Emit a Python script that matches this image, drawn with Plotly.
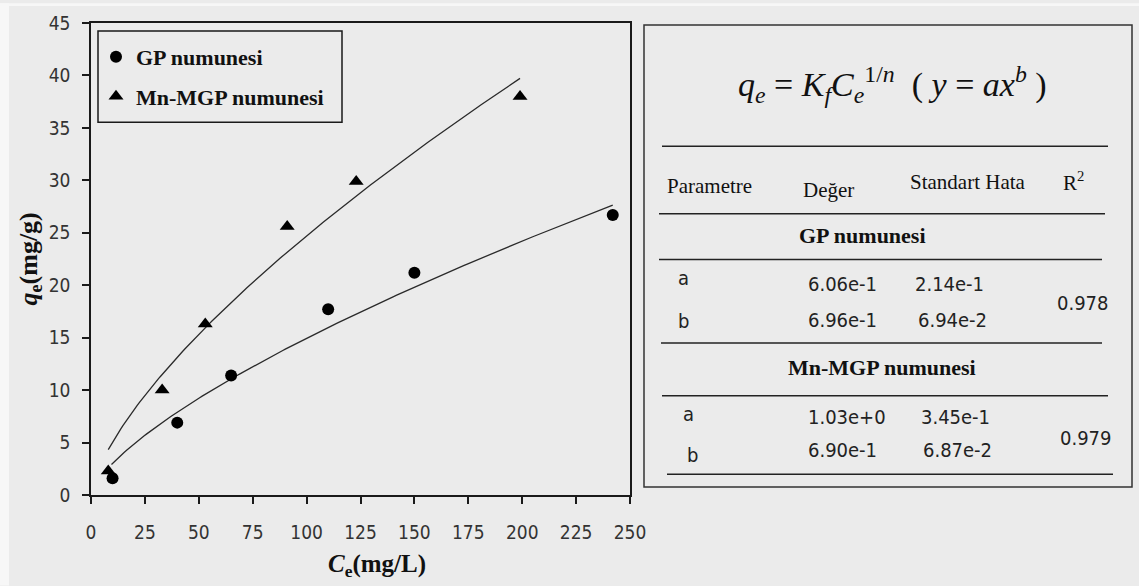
import numpy as np
import plotly.graph_objects as go

# ---------------- data ----------------
gp_ce = [10, 40, 65, 110, 150, 242]
gp_qe = [1.6, 6.9, 11.4, 17.7, 21.2, 26.7]
mn_ce = [8, 33, 53, 91, 123, 199]
mn_qe = [2.3, 10.0, 16.3, 25.6, 29.9, 38.0]

# Freundlich fit parameters (from the table)
gp_a, gp_b = 0.606, 0.696
mn_a, mn_b = 1.03, 0.690
gp_fit_range = [9.5, 242]
mn_fit_range = [8, 199]

x_ticks = [0, 25, 50, 75, 100, 125, 150, 175, 200, 225, 250]
y_ticks = [0, 5, 10, 15, 20, 25, 30, 35, 40, 45]

table_header = ["Parametre", "Değer", "Standart Hata", "R<sup>2</sup>"]
gp_rows = [["a", "6.06e-1", "2.14e-1"], ["b", "6.96e-1", "6.94e-2"]]
gp_r2 = "0.978"
mn_rows = [["a", "1.03e+0", "3.45e-1"], ["b", "6.90e-1", "6.87e-2"]]
mn_r2 = "0.979"

# ---------------- geometry helpers ----------------
W, H = 1139, 586
L, R, T, B = 91, 630, 20, 495


def xp(px):
    return (px - L) / (R - L)


def yp(py):
    return (B - py) / (B - T)


BG = "#ebebeb"
INK = "#1a1a1a"
SERIF = "Liberation Serif, Times New Roman, serif"
SANS = "DejaVu Sans Condensed, DejaVu Sans, sans-serif"

fig = go.Figure()

gx = np.linspace(gp_fit_range[0], gp_fit_range[1], 200)
mx = np.linspace(mn_fit_range[0], mn_fit_range[1], 200)
fig.add_trace(go.Scatter(x=gx, y=gp_a * gx ** gp_b, mode="lines",
                         line=dict(color="#2a2a2a", width=1.3), showlegend=False,
                         hoverinfo="skip"))
fig.add_trace(go.Scatter(x=mx, y=mn_a * mx ** mn_b, mode="lines",
                         line=dict(color="#2a2a2a", width=1.3), showlegend=False,
                         hoverinfo="skip"))
fig.add_trace(go.Scatter(x=gp_ce, y=gp_qe, mode="markers", name="GP numunesi",
                         legendgroup="g1",
                         marker=dict(symbol="circle", size=12, color="#000")))
fig.add_trace(go.Scatter(x=mn_ce, y=mn_qe, mode="markers", name="Mn-MGP numunesi",
                         legendgroup="g2",
                         marker=dict(symbol="triangle-up", size=13, color="#000")))

axis_common = dict(showline=True, linecolor=INK, linewidth=1.6, mirror=True,
                   ticks="outside", ticklen=7, tickwidth=1.5, tickcolor=INK,
                   showgrid=False, zeroline=False,
                   tickfont=dict(family=SANS, size=19, color="#333"))

fig.update_xaxes(range=[0, 250], tickvals=x_ticks, ticklabelstandoff=12, **axis_common)
fig.update_yaxes(range=[0, 45], tickvals=y_ticks, ticklabelstandoff=8, **axis_common)

shapes = []
annotations = []

# white strips at left / top edge
shapes.append(dict(type="rect", xref="paper", yref="paper", x0=xp(0), x1=xp(9),
                   y0=yp(0), y1=yp(H), fillcolor="#f7f7f7", line=dict(width=0), layer="below"))
shapes.append(dict(type="rect", xref="paper", yref="paper", x0=xp(0), x1=xp(W),
                   y0=yp(0), y1=yp(3), fillcolor="#f7f7f7", line=dict(width=0), layer="below"))

# legend box
shapes.append(dict(type="rect", xref="paper", yref="paper", x0=xp(98), x1=xp(342),
                   y0=yp(28), y1=yp(120), line=dict(color=INK, width=1.5)))

# right panel box
shapes.append(dict(type="rect", xref="paper", yref="paper", x0=xp(644), x1=xp(1132),
                   y0=yp(22), y1=yp(487), line=dict(color="#333", width=1.5)))

# table rules
for (x0, x1, yy) in [(662, 1108, 144), (659, 1105, 212), (659, 1102, 258),
                     (661, 1102, 342), (662, 1108, 395), (667, 1113, 474)]:
    shapes.append(dict(type="line", xref="paper", yref="paper", x0=xp(x0), x1=xp(x1),
                       y0=yp(yy), y1=yp(yy), line=dict(color="#222", width=1.5)))


def ann(text, x, y, font, xanchor="center", yanchor="middle"):
    annotations.append(dict(text=text, x=xp(x), y=yp(y), xref="paper", yref="paper",
                            showarrow=False, xanchor=xanchor, yanchor=yanchor, font=font))


# formula
ann("<i>q</i><sub><i>e</i></sub> = <i>K</i><sub><i>f</i></sub><i>C</i><sub><i>e</i></sub>"
    "<sup>1/<i>n</i></sup>  ( <i>y</i> = <i>ax</i><sup><i>b</i></sup> )",
    892, 82, dict(family=SERIF, size=34, color="#111"))

hdr_font = dict(family=SERIF, size=21, color="#111")
ann(table_header[0], 709, 184, hdr_font)
ann(table_header[1], 828, 188, hdr_font)
ann(table_header[2], 968, 180, hdr_font)
ann(table_header[3], 1073, 180, hdr_font)

bold_font = dict(family=SERIF, size=22, color="#111", weight="bold")
ann("<b>GP numunesi</b>", 862, 234, bold_font)
ann("<b>Mn-MGP numunesi</b>", 882, 367, bold_font)

val_font = dict(family=SANS, size=20, color="#222")
# GP rows
ann(gp_rows[0][0], 683, 277, val_font)
ann(gp_rows[0][1], 842, 283, val_font)
ann(gp_rows[0][2], 949, 283, val_font)
ann(gp_rows[1][0], 683, 320, val_font)
ann(gp_rows[1][1], 843, 319, val_font)
ann(gp_rows[1][2], 952, 319, val_font)
ann(gp_r2, 1083, 302, val_font)
# Mn rows
ann(mn_rows[0][0], 688, 413, val_font)
ann(mn_rows[0][1], 847, 417, val_font)
ann(mn_rows[0][2], 955, 417, val_font)
ann(mn_rows[1][0], 692, 455, val_font)
ann(mn_rows[1][1], 843, 450, val_font)
ann(mn_rows[1][2], 957, 450, val_font)
ann(mn_r2, 1086, 438, val_font)

# axis titles
ann("<b><i>C</i><sub>e</sub>(mg/L)</b>", 377, 566, dict(family=SERIF, size=25, color="#111"))
annotations.append(dict(text="<b><i>q</i><sub>e</sub>(mg/g)</b>", x=xp(30), y=yp(258),
                        xref="paper", yref="paper", showarrow=False, textangle=-90,
                        xanchor="center", yanchor="middle",
                        font=dict(family=SERIF, size=26, color="#111")))

fig.update_layout(
    width=W, height=H,
    margin=dict(l=L, r=W - R, t=T, b=H - B, pad=0),
    paper_bgcolor=BG, plot_bgcolor=BG,
    showlegend=True,
    legend=dict(x=xp(96), y=yp(33), xanchor="left", yanchor="top",
                bgcolor="rgba(0,0,0,0)", borderwidth=0,
                traceorder="grouped", tracegroupgap=8,
                font=dict(family=SERIF, size=22, color="#111", weight="bold")),
    shapes=shapes,
    annotations=annotations,
)

fig.write_html("out.html")
